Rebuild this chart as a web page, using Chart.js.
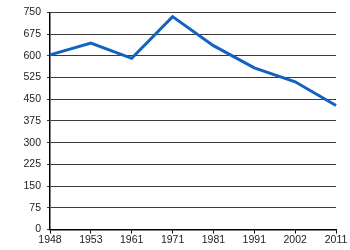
<!DOCTYPE html>
<html>
<head>
<meta charset="utf-8">
<script src="https://cdn.jsdelivr.net/npm/chart.js@4/dist/chart.umd.min.js"></script>
<style>
  html, body { margin: 0; padding: 0; background: #fff; }
  #wrap { width: 350px; height: 250px; position: relative; }
</style>
</head>
<body>
<div id="wrap"><canvas id="chart"></canvas></div>
<script>
const years = ['1948', '1953', '1961', '1971', '1981', '1991', '2002', '2011'];
const values = [603, 644, 591, 735, 635, 558, 510, 428];
const yTicks = [0, 75, 150, 225, 300, 375, 450, 525, 600, 675, 750];

const textColor = '#222222';
const gridColor = '#3a3a3a';
const lineColor = '#1262c0';

new Chart(document.getElementById('chart'), {
  type: 'line',
  data: {
    labels: years,
    datasets: [{
      data: values,
      borderColor: lineColor,
      borderWidth: 3,
      tension: 0,
      pointRadius: 0,
      fill: false
    }]
  },
  options: {
    responsive: true,
    maintainAspectRatio: false,
    animation: false,
    layout: { padding: { top: 10, right: 14, left: 0, bottom: 0 } },
    plugins: { legend: { display: false }, tooltip: { enabled: false } },
    scales: {
      x: {
        type: 'category',
        offset: false,
        border: { color: '#000', width: 1.5 },
        grid: { display: true, drawOnChartArea: false, color: '#000', tickLength: 4 },
        ticks: {
          color: textColor,
          font: { family: 'Liberation Sans', size: 10.5 },
          padding: 0,
          maxRotation: 0,
          autoSkip: false
        },
        afterFit: function(scale) { scale.height = 20.5; }
      },
      y: {
        min: 0,
        max: 750,
        border: { color: '#000', width: 1.5 },
        grid: { color: gridColor, lineWidth: 1, tickLength: 3 },
        afterBuildTicks: function(scale) {
          scale.ticks = yTicks.map(v => ({ value: v }));
        },
        ticks: {
          color: textColor,
          font: { family: 'Liberation Sans', size: 10.5 },
          padding: 6
        },
        afterFit: function(scale) { scale.width = 50; }
      }
    }
  }
});
</script>
</body>
</html>
